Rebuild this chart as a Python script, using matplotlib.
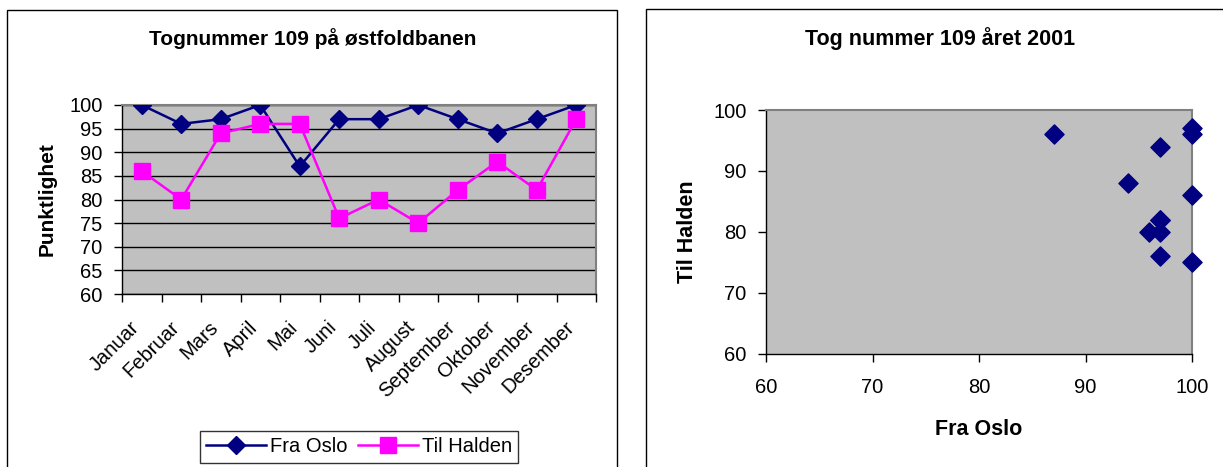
import matplotlib
matplotlib.use("Agg")
import matplotlib.pyplot as plt
from matplotlib.patches import Rectangle
from matplotlib.transforms import ScaledTranslation
import numpy as np

plt.rcParams["font.family"] = ["Liberation Sans", "DejaVu Sans"]

MONTHS = ["Januar", "Februar", "Mars", "April", "Mai", "Juni", "Juli",
          "August", "September", "Oktober", "November", "Desember"]
FRA_OSLO = [100, 96, 97, 100, 87, 97, 97, 100, 97, 94, 97, 100]
TIL_HALDEN = [86, 80, 94, 96, 96, 76, 80, 75, 82, 88, 82, 97]

NAVY = "#000080"
MAGENTA = "#FF00FF"
PLOT_BG = "#C0C0C0"
W, H = 1223, 467

fig = plt.figure(figsize=(W / 100, H / 100), dpi=100)

# chart frames
fig.patches.append(Rectangle((7 / W, -0.1), (617 - 7) / W, (H - 10) / H + 0.1,
                             transform=fig.transFigure, fill=False,
                             edgecolor="black", linewidth=1.0))
fig.patches.append(Rectangle((646 / W, -0.1), 0.5, (H - 9) / H + 0.1,
                             transform=fig.transFigure, fill=False,
                             edgecolor="black", linewidth=1.0))


def style_axes(ax):
    ax.set_facecolor(PLOT_BG)
    for side in ("top", "right"):
        ax.spines[side].set_color("#808080")
        ax.spines[side].set_linewidth(1.5)
    for side in ("left", "bottom"):
        ax.spines[side].set_color("black")
        ax.spines[side].set_linewidth(1.0)
    ax.tick_params(direction="out", length=6, width=1, labelsize=14.5, pad=2)
    ax.tick_params(axis="y", pad=8)


# line chart
ax1 = fig.add_axes([122 / W, (H - 294) / H, (596 - 122) / W, (294 - 105) / H])
style_axes(ax1)
x = np.arange(len(MONTHS))
ax1.plot(x, FRA_OSLO, color=NAVY, linewidth=1.8, marker="D", markersize=9,
         label="Fra Oslo", zorder=3)
ax1.plot(x, TIL_HALDEN, color=MAGENTA, linewidth=1.8, marker="s", markersize=11,
         label="Til Halden", zorder=3)
ax1.set_xlim(-0.5, len(MONTHS) - 0.5)
ax1.set_ylim(60, 100)
ax1.set_yticks(np.arange(60, 101, 5))
ax1.yaxis.grid(True, color="black", linewidth=1.0)
ax1.set_axisbelow(True)
ax1.set_xticks(np.arange(-0.5, len(MONTHS), 1.0))
ax1.set_xticklabels([])
ax1.set_xticks(x, minor=True)
ax1.set_xticklabels(MONTHS, minor=True, rotation=45, ha="right",
                    rotation_mode="anchor", fontsize=14.5)
ax1.tick_params(axis="x", which="minor", length=0, pad=17)
shift = ScaledTranslation(-12 / 100, 0, fig.dpi_scale_trans)
for lbl in ax1.get_xticklabels(minor=True):
    lbl.set_transform(lbl.get_transform() + shift)
ax1.set_ylabel("Punktlighet", fontsize=15, fontweight="bold", labelpad=9)
fig.text(313 / W, 1 - 39 / H, "Tognummer 109 på østfoldbanen", ha="center",
         va="center", fontsize=15, fontweight="bold")
leg = ax1.legend(loc="center", bbox_to_anchor=(359 / W, 1 - 447 / H),
                 bbox_transform=fig.transFigure, ncol=2, fontsize=14.5,
                 frameon=True, fancybox=False, edgecolor="black",
                 handlelength=3.0, columnspacing=0.5, handletextpad=0.2,
                 borderpad=0.3, borderaxespad=0)
leg.get_frame().set_linewidth(1.0)

# scatter chart
ax2 = fig.add_axes([766 / W, (H - 354) / H, (1192 - 766) / W, (354 - 110) / H])
style_axes(ax2)
ax2.scatter(FRA_OSLO, TIL_HALDEN, marker="D", s=95, color=NAVY, zorder=3,
            clip_on=False)
ax2.set_xlim(60, 100)
ax2.set_ylim(60, 100)
ax2.set_xticks(np.arange(60, 101, 10))
ax2.set_yticks(np.arange(60, 101, 10))
ax2.tick_params(axis="x", pad=11)
ax2.set_xlabel("Fra Oslo", fontsize=15.5, fontweight="bold", labelpad=16)
ax2.set_ylabel("Til Halden", fontsize=15.5, fontweight="bold", labelpad=11)
fig.text(940 / W, 1 - 39 / H, "Tog nummer 109 året 2001", ha="center",
         va="center", fontsize=15.5, fontweight="bold")

fig.savefig("out.png", dpi=100)
